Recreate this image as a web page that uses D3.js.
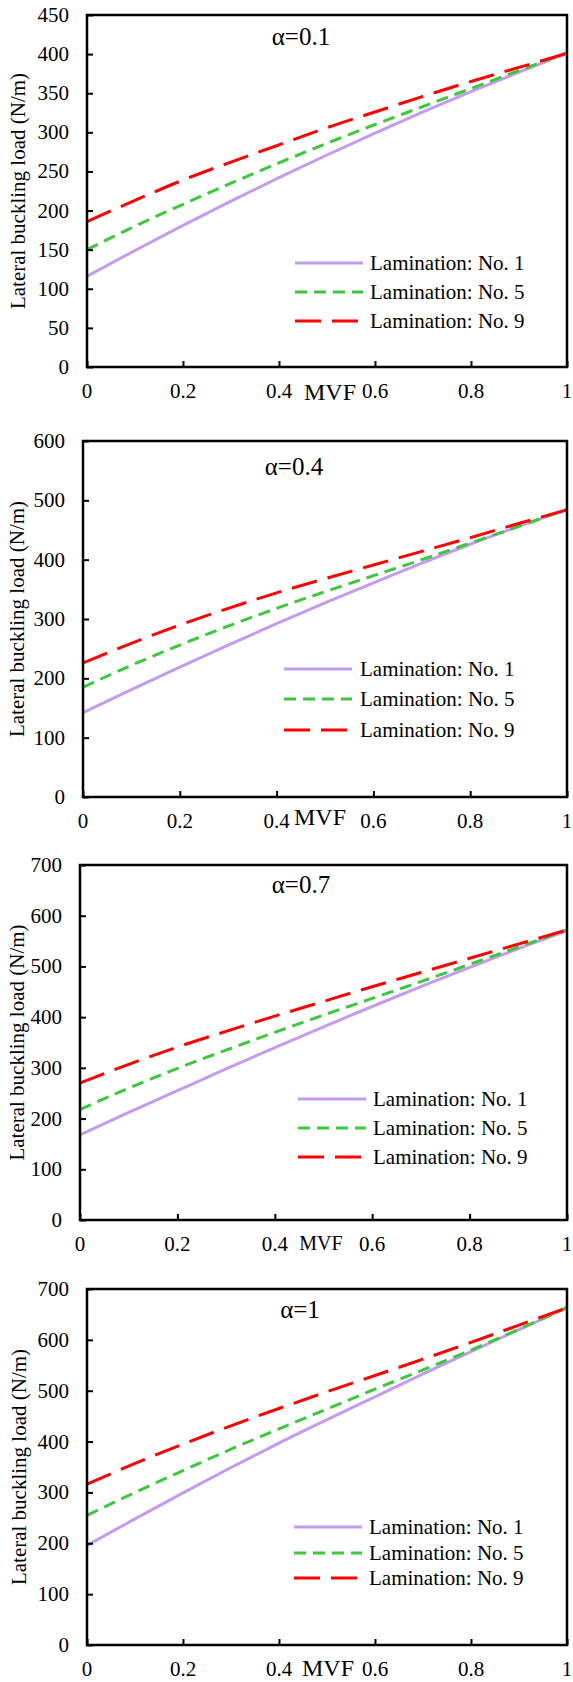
<!DOCTYPE html>
<html><head><meta charset="utf-8">
<script src="https://cdn.jsdelivr.net/npm/d3@7/dist/d3.min.js"></script>
<style>body{margin:0;background:#fff}svg{display:block}</style>
</head><body>
<script>
const mvf = [0, 0.1, 0.2, 0.3, 0.4, 0.5, 0.6, 0.7, 0.8, 0.9, 1];
const xTicks = [0, 0.2, 0.4, 0.6, 0.8, 1];
const xTickLabels = ["0", "0.2", "0.4", "0.6", "0.8", "1"];
const seriesNames = ["Lamination: No. 1", "Lamination: No. 5", "Lamination: No. 9"];
const panelTitles = ["α=0.1", "α=0.4", "α=0.7", "α=1"];
const yMax = [450, 600, 700, 700];
const yStep = [50, 100, 100, 100];

// alpha = 0.1
const a01_no1 = [116, 149, 181, 212, 242, 271, 299, 326, 352, 377, 401];
const a01_no5 = [150, 180, 208, 235, 261, 286, 310, 333, 356, 379, 402];
const a01_no9 = [186, 213, 239, 262, 284, 306, 326, 346, 365, 383, 401];
// alpha = 0.4
const a04_no1 = [142, 181, 219, 256, 292, 327, 361, 394, 426, 456, 484];
const a04_no5 = [185, 222, 256, 288, 318, 346, 373, 400, 428, 456, 485];
const a04_no9 = [226, 259, 290, 318, 344, 368, 391, 414, 437, 461, 484];
// alpha = 0.7
const a07_no1 = [168, 212, 255, 298, 340, 381, 421, 460, 498, 535, 570];
const a07_no5 = [218, 260, 299, 335, 370, 404, 437, 470, 504, 538, 572];
const a07_no9 = [270, 307, 341, 372, 402, 431, 460, 488, 516, 544, 572];
// alpha = 1
const a10_no1 = [196, 248, 299, 349, 397, 443, 488, 533, 577, 620, 663];
const a10_no5 = [255, 300, 343, 385, 425, 464, 503, 541, 580, 621, 664];
const a10_no9 = [316, 357, 395, 431, 465, 498, 530, 562, 595, 629, 663];

const panelData = [
  [a01_no1, a01_no5, a01_no9],
  [a04_no1, a04_no5, a04_no9],
  [a07_no1, a07_no5, a07_no9],
  [a10_no1, a10_no5, a10_no9]
];

// layout (pixels)
const layout = [
  {l: 87, r: 567, t: 15, b: 367, tx: 301, ty: 45, mx: 330, my: 400, mfs: 24, yt: 18, lx: 295, lt: 370, rows: [263, 292, 321]},
  {l: 83, r: 567, t: 441, b: 797, tx: 294, ty: 475, mx: 320, my: 825, mfs: 24, yt: 17, lx: 284, lt: 360, rows: [669, 699, 730]},
  {l: 80, r: 567, t: 865, b: 1220, tx: 301, ty: 893, mx: 321, my: 1250, mfs: 20, yt: 17, lx: 298, lt: 373, rows: [1099, 1128, 1157]},
  {l: 87, r: 567, t: 1289, b: 1645, tx: 300, ty: 1318, mx: 328, my: 1676, mfs: 24, yt: 19, lx: 294, lt: 369, rows: [1527, 1553, 1578]}
];
const styles = [
  {color: "#C39CF2", dash: null},
  {color: "#3CC83C", dash: "12,7"},
  {color: "#FF0000", dash: "26,11"}
];
const FONT = "'Liberation Serif', 'Times New Roman', 'DejaVu Serif', serif";

const svg = d3.select("body").append("svg").attr("width", 573).attr("height", 1682)
  .attr("font-family", FONT);

layout.forEach((L, p) => {
  const g = svg.append("g");
  const x = d3.scaleLinear().domain([0, 1]).range([L.l, L.r]);
  const y = d3.scaleLinear().domain([0, yMax[p]]).range([L.b, L.t]);
  const yTicks = d3.range(0, yMax[p] + 1, yStep[p]);

  const line = d3.line().x((d, i) => x(mvf[i])).y(d => y(d)).curve(d3.curveMonotoneX);
  panelData[p].forEach((vals, s) => {
    g.append("path").attr("d", line(vals)).attr("fill", "none")
      .attr("stroke", styles[s].color).attr("stroke-width", 3)
      .attr("stroke-dasharray", styles[s].dash);
  });

  g.append("rect").attr("x", L.l).attr("y", L.t).attr("width", L.r - L.l).attr("height", L.b - L.t)
    .attr("fill", "none").attr("stroke", "#000").attr("stroke-width", 2.5);

  const yAxis = d3.axisRight(y).tickValues(yTicks).tickSize(6).tickFormat("");
  const ya = g.append("g").attr("transform", `translate(${L.l},0)`).call(yAxis);
  ya.select(".domain").remove();
  ya.selectAll("line").attr("stroke", "#000").attr("stroke-width", 2);
  g.selectAll(null).data(yTicks).enter().append("text")
    .attr("font-family", FONT)
    .attr("x", L.l - 18).attr("y", d => y(d) + 7).attr("text-anchor", "end")
    .attr("font-size", 21).text(d => d);

  const xAxis = d3.axisTop(x).tickValues(xTicks).tickSize(6).tickFormat("");
  const xa = g.append("g").attr("transform", `translate(0,${L.b})`).call(xAxis);
  xa.select(".domain").remove();
  xa.selectAll("line").attr("stroke", "#000").attr("stroke-width", 2);
  g.selectAll(null).data(xTicks).enter().append("text")
    .attr("font-family", FONT)
    .attr("x", d => x(d)).attr("y", L.b + 31).attr("text-anchor", "middle")
    .attr("font-size", 21).text((d, i) => xTickLabels[i]);

  g.append("text").attr("font-family", FONT).attr("x", L.mx).attr("y", L.my).attr("text-anchor", "middle")
    .attr("font-size", L.mfs).text("MVF");
  g.append("text").attr("font-family", FONT)
    .attr("transform", `translate(${L.yt + 7},${(L.t + L.b) / 2}) rotate(-90)`)
    .attr("text-anchor", "middle").attr("font-size", 21).text("Lateral buckling load (N/m)");

  g.append("text").attr("font-family", FONT).attr("x", L.tx).attr("y", L.ty).attr("text-anchor", "middle")
    .attr("font-size", 25).text(panelTitles[p]);

  seriesNames.forEach((name, s) => {
    g.append("line").attr("x1", L.lx).attr("x2", L.lx + 68).attr("y1", L.rows[s]).attr("y2", L.rows[s])
      .attr("stroke", styles[s].color).attr("stroke-width", 3).attr("stroke-dasharray", styles[s].dash);
    g.append("text").attr("font-family", FONT).attr("x", L.lt).attr("y", L.rows[s] + 7)
      .attr("font-size", 21).text(name);
  });
});
</script>
</body></html>
